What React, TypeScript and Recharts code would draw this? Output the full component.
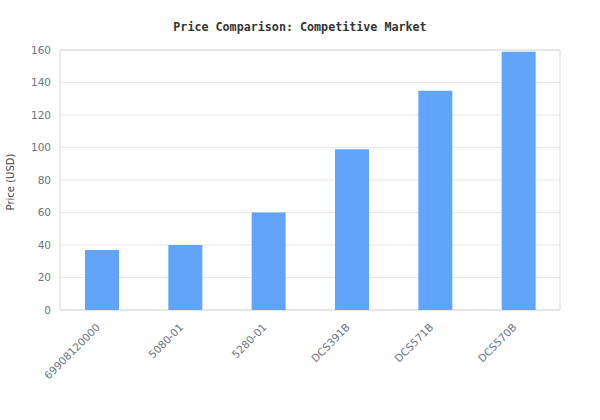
import React from "react";
import {
  BarChart, Bar, XAxis, YAxis, CartesianGrid, ReferenceArea,
} from "recharts";

const models = ["69908120000", "5080-01", "5280-01", "DCS391B", "DCS571B", "DCS570B"];
const prices = [37, 40, 59.99, 99, 135, 159];
const yTicks = [0, 20, 40, 60, 80, 100, 120, 140, 160];

const data = models.map((model, i) => ({ model, price: prices[i] }));

const tickStyle = { fill: "#6b7280", fontSize: 10.5, fontFamily: "DejaVu Sans" };

// rotated category label, anchored at its end just below the tick
function SlantTick({ x, y, payload }: any) {
  return (
    <g transform={`translate(${x - 1},${y + 18})`}>
      <text textAnchor="end" transform="rotate(-45)" {...tickStyle}>
        {payload.value}
      </text>
    </g>
  );
}

export default function App() {
  return (
    <div style={{ position: "absolute", left: 0, top: 0, width: 600, height: 420, background: "#fff" }}>
      <div
        style={{
          position: "absolute", top: 20, width: 600, textAlign: "center",
          fontFamily: "DejaVu Sans Mono", fontWeight: "bold", fontSize: 11.7, color: "#333",
        }}
      >
        Price Comparison: Competitive Market
      </div>
      <BarChart width={600} height={420} data={data} margin={{ top: 50, right: 40, bottom: 0, left: 0 }}>
        <CartesianGrid vertical={false} stroke="#e6e6e6" />
        <XAxis
          dataKey="model"
          height={110}
          interval={0}
          tickLine={false}
          axisLine={false}
          tickSize={0}
          tickMargin={0}
          tick={<SlantTick />}
        />
        <YAxis
          width={60}
          domain={[0, 160]}
          ticks={yTicks}
          tickLine={false}
          axisLine={false}
          tick={tickStyle}
          tickSize={6}
          tickMargin={3}
          label={{
            value: "Price (USD)", angle: -90, position: "center", dx: -20, dy: 2,
            style: { fill: "#444", fontSize: 10, fontFamily: "DejaVu Sans" },
          }}
        />
        <ReferenceArea y1={0} y2={160} fill="none" stroke="#d9d9d9" strokeWidth={1} ifOverflow="visible" />
        <Bar dataKey="price" fill="#60a5fa" barSize={34} isAnimationActive={false} />
      </BarChart>
    </div>
  );
}
